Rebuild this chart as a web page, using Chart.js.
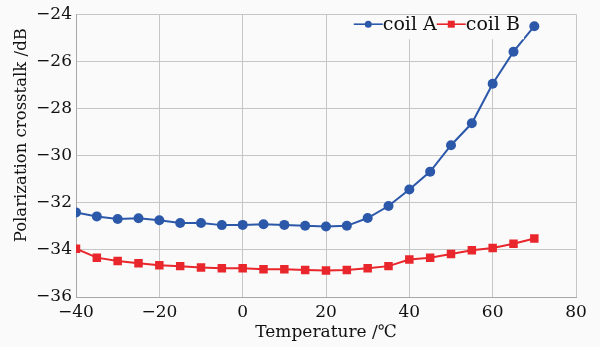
<!DOCTYPE html>
<html>
<head>
<meta charset="utf-8">
<script src="https://cdn.jsdelivr.net/npm/chart.js@4.4.1/dist/chart.umd.min.js"></script>
<style>
  html, body { margin: 0; padding: 0; background: #fafafa; }
  #wrap { width: 600px; height: 347px; }
</style>
</head>
<body>
<div id="wrap"><canvas id="chartCrosstalk" width="600" height="347"></canvas></div>
<script>
// ===== DATOS =====
const temperaturas = [-40, -35, -30, -25, -20, -15, -10, -5, 0, 5, 10, 15, 20, 25, 30, 35, 40, 45, 50, 55, 60, 65, 70];
const coilA = [-32.41, -32.58, -32.69, -32.66, -32.74, -32.86, -32.86, -32.95, -32.94, -32.91, -32.94, -32.98, -33.01, -32.98, -32.65, -32.14, -31.44, -30.68, -29.56, -28.63, -26.95, -25.59, -24.51];
const coilB = [-33.95, -34.33, -34.47, -34.57, -34.65, -34.69, -34.75, -34.78, -34.78, -34.82, -34.82, -34.85, -34.88, -34.85, -34.78, -34.69, -34.41, -34.33, -34.18, -34.02, -33.92, -33.74, -33.52];
const nombresSeries = ['coil A', 'coil B'];
const ejeX = { min: -40, max: 80, paso: 20 };
const ejeY = { min: -36, max: -24, paso: 2 };
const tituloX = 'Temperature /\u2103';
const tituloY = 'Polarization crosstalk /dB';

const AZUL = '#2c58a9';
const ROJO = '#e8262b';
const FUENTE = '"DejaVu Serif", "Liberation Serif", serif';
const GRIS = '#c6c6c6';

function menos(v) {
    return String(v).replace('-', '\u2212');
}

// ===== FONDO =====
const fondoPlugin = {
    id: 'fondo',
    beforeDraw(chart) {
        const ctx = chart.ctx;
        ctx.save();
        ctx.fillStyle = '#fafafa';
        ctx.fillRect(0, 0, chart.width, chart.height);
        ctx.restore();
    }
};

// ===== TITULO EJE Y (algo desplazado hacia arriba, como el original) =====
const tituloYPlugin = {
    id: 'tituloY',
    afterDraw(chart) {
        const ctx = chart.ctx;
        const area = chart.chartArea;
        ctx.save();
        ctx.font = '16.5px ' + FUENTE;
        ctx.fillStyle = '#111';
        ctx.textAlign = 'center';
        ctx.textBaseline = 'middle';
        ctx.translate(22, area.top + area.height * 0.428);
        ctx.rotate(-Math.PI / 2);
        ctx.fillText(tituloY, 0, 0);
        ctx.restore();
    }
};

// ===== LEYENDA DENTRO DEL AREA =====
const leyendaPlugin = {
    id: 'leyendaInterna',
    afterDatasetsDraw(chart) {
        const ctx = chart.ctx;
        const area = chart.chartArea;
        ctx.save();
        ctx.font = '19px ' + FUENTE;
        const linea = 29;
        const anchos = chart.data.datasets.map(d => ctx.measureText(d.label).width);
        const total = anchos.reduce((s, w) => s + w + linea, 0);
        let x = area.right - 56 - total;
        const y = area.top + 10;

        // fondo de la leyenda
        ctx.fillStyle = '#fafafa';
        ctx.fillRect(x - 6, area.top + 1, total + 10, 24);

        chart.data.datasets.forEach((d, i) => {
            ctx.strokeStyle = d.borderColor;
            ctx.lineWidth = 1.6;
            ctx.beginPath();
            ctx.moveTo(x, y);
            ctx.lineTo(x + linea, y);
            ctx.stroke();
            ctx.fillStyle = d.borderColor;
            const cx = x + linea / 2;
            if (d.pointStyle === 'rect') {
                ctx.fillRect(cx - 3.5, y - 3.5, 7, 7);
            } else {
                ctx.beginPath();
                ctx.arc(cx, y, 3.5, 0, Math.PI * 2);
                ctx.fill();
            }
            ctx.fillStyle = '#111';
            ctx.textBaseline = 'middle';
            ctx.textAlign = 'left';
            ctx.fillText(d.label, x + linea, y + 1);
            x += linea + anchos[i];
        });
        ctx.restore();
    }
};

function crearGrafico() {
    const ctx = document.getElementById('chartCrosstalk').getContext('2d');
    new Chart(ctx, {
        type: 'line',
        data: {
            datasets: [{
                label: nombresSeries[0],
                data: temperaturas.map((t, i) => ({ x: t, y: coilA[i] })),
                borderColor: AZUL,
                backgroundColor: AZUL,
                borderWidth: 2,
                pointStyle: 'circle',
                pointRadius: 5,
                pointBorderWidth: 0,
                tension: 0
            }, {
                label: nombresSeries[1],
                data: temperaturas.map((t, i) => ({ x: t, y: coilB[i] })),
                borderColor: ROJO,
                backgroundColor: ROJO,
                borderWidth: 2,
                pointStyle: 'rect',
                pointRadius: 6,
                pointBorderWidth: 0,
                tension: 0
            }]
        },
        options: {
            responsive: false,
            animation: false,
            events: [],
            layout: { padding: { top: 12, right: 24, left: 0, bottom: 0 } },
            plugins: {
                legend: { display: false },
                tooltip: { enabled: false }
            },
            scales: {
                x: {
                    type: 'linear',
                    min: ejeX.min,
                    max: ejeX.max,
                    afterFit(scale) { scale.height = 50; },
                    ticks: {
                        stepSize: ejeX.paso,
                        color: '#111',
                        padding: 5,
                        font: { family: FUENTE, size: 17 },
                        callback: v => menos(v)
                    },
                    grid: { color: GRIS, drawTicks: false },
                    border: { color: '#a8a8a8' },
                    title: {
                        display: true,
                        text: tituloX,
                        color: '#111',
                        font: { family: FUENTE, size: 17 },
                        padding: { top: 0, bottom: 4 }
                    }
                },
                y: {
                    min: ejeY.min,
                    max: ejeY.max,
                    afterFit(scale) { scale.width = 76; },
                    ticks: {
                        stepSize: ejeY.paso,
                        color: '#111',
                        padding: 4,
                        font: { family: FUENTE, size: 17 },
                        callback: v => menos(v)
                    },
                    grid: { color: GRIS, drawTicks: false },
                    border: { color: '#a8a8a8' }
                }
            }
        },
        plugins: [fondoPlugin, tituloYPlugin, leyendaPlugin]
    });
}

crearGrafico();
</script>
</body>
</html>
